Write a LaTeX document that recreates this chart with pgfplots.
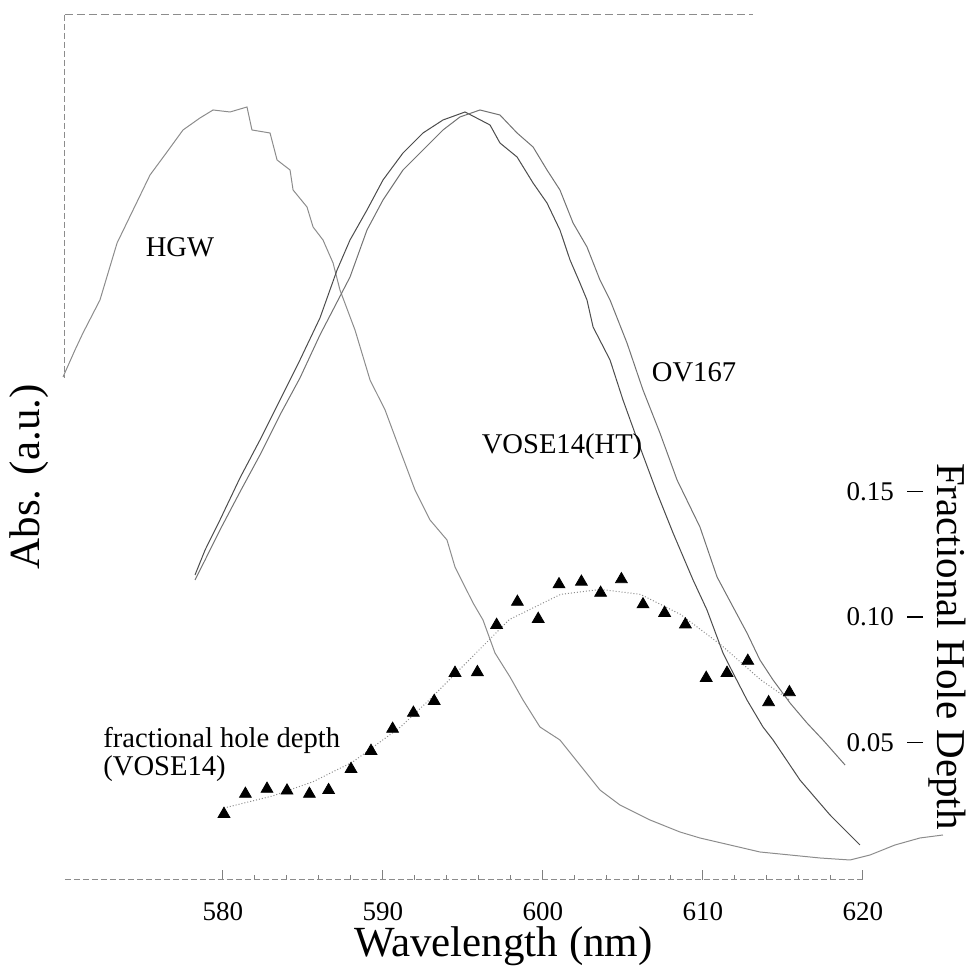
\documentclass[border=0pt]{standalone}
\usepackage{fontspec}
\setmainfont{Liberation Serif}
\usepackage{pgfplots}
\pgfplotsset{compat=1.18}
\begin{document}
\begin{tikzpicture}
\path[use as bounding box] (-32.5pt,-43.5pt) rectangle (453pt,440pt);
\begin{axis}[
  at={(0,0)}, anchor=south west, scale only axis,
  width=400pt, height=432.5pt,
  xmin=570.125, xmax=620.125, ymin=0, ymax=8.65,
  clip=false,
  separate axis lines,
  axis x line*=bottom, axis y line*=left,
  x axis line style={-, black!45, line width=0.5pt, dash pattern=on 3pt off 1.5pt},
  y axis line style={draw=none},
  xtick={580,590,600,610,620}, xtick pos=left, xtick align=inside,
  minor x tick num=4,
  major tick length=5pt, minor tick length=2.5pt,
  ytick=\empty,
  tick style={black!50, line width=0.5pt},
  /pgf/number format/assume math mode=true,
  /pgf/number format/1000 sep={},
  xticklabel style={font=\fontsize{13.5}{16}\selectfont, yshift=-7.5pt},
  xlabel={Wavelength (nm)},
  xlabel style={font=\fontsize{21.5}{24}\selectfont, at={(axis description cs:0.548,-0.089)}, anchor=base},
  ylabel={Abs. (a.u.)},
  ylabel style={font=\fontsize{21.5}{24}\selectfont, at={(axis description cs:-0.045,0.466)}, anchor=center},
]
\draw[black!45, line width=0.5pt, dash pattern=on 3pt off 1.5pt] (rel axis cs:0,1) -- (rel axis cs:0,0.58);
\draw[black!45, line width=0.5pt, dash pattern=on 4pt off 2pt] (rel axis cs:0,1) -- (rel axis cs:0.86,1);
% HGW
\addplot[black!45, line width=0.5pt] coordinates {
(570.0,5.03)(570.75,5.30)(571.25,5.47)(572.31,5.80)(573.38,6.37)(574.38,6.70)
(575.44,7.05)(576.5,7.28)(577.5,7.50)(578.56,7.62)(579.38,7.70)(580.44,7.68)
(581.5,7.73)(581.81,7.50)(582.94,7.47)(583.38,7.20)(584.19,7.10)(584.38,6.90)
(585.25,6.73)(585.63,6.53)(586.25,6.40)(586.88,6.17)(587.31,5.90)(588.25,5.50)
(589.19,5.00)(590.13,4.70)(591.06,4.30)(592.0,3.90)(592.94,3.60)(594.0,3.40)
(594.5,3.13)(595.63,2.77)(596.25,2.60)(597.0,2.27)(597.94,2.03)(598.75,1.80)
(599.81,1.53)(601.06,1.40)(602.31,1.15)(603.56,0.90)(604.81,0.75)(606.69,0.60)
(608.56,0.48)(609.81,0.42)(611.69,0.35)(613.56,0.28)(615.44,0.25)(617.31,0.22)
(619.19,0.20)(620.44,0.25)(622.0,0.35)(623.56,0.42)(625.0,0.45)
};
% VOSE14(HT)
\addplot[black!70, line width=0.5pt] coordinates {
(578.25,3.05)(578.88,3.30)(579.81,3.60)(581.06,4.02)(582.31,4.40)(583.56,4.80)
(584.81,5.20)(586.06,5.62)(587.13,6.10)(587.94,6.40)(589.0,6.70)(590.0,7.00)
(591.25,7.27)(592.5,7.47)(593.75,7.60)(595.13,7.68)(596.69,7.55)(597.31,7.37)
(598.38,7.23)(599.38,6.97)(600.25,6.77)(601.06,6.50)(601.69,6.20)(602.31,5.97)
(602.75,5.80)(603.13,5.53)(604.19,5.20)(605.0,4.80)(606.06,4.33)(607.13,3.87)
(608.13,3.47)(609.38,3.00)(610.25,2.70)(611.25,2.27)(611.88,2.07)(612.75,1.80)
(613.75,1.53)(614.38,1.40)(616.06,1.00)(617.94,0.65)(619.81,0.35)
};
% OV167
\addplot[black!55, line width=0.5pt] coordinates {
(578.25,3.00)(578.88,3.20)(579.81,3.50)(581.06,3.88)(582.31,4.25)(583.56,4.65)
(584.81,5.02)(586.06,5.45)(587.94,6.03)(589.0,6.50)(590.0,6.80)(591.25,7.10)
(592.5,7.30)(593.75,7.50)(594.81,7.63)(596.06,7.70)(597.31,7.65)(598.38,7.47)
(599.38,7.33)(600.25,7.10)(601.06,6.90)(601.88,6.57)(602.75,6.33)(603.56,6.00)
(604.19,5.80)(605.25,5.37)(606.25,4.90)(607.31,4.47)(608.38,4.00)(609.81,3.53)
(610.88,3.03)(611.88,2.73)(612.75,2.47)(613.56,2.20)(614.38,2.00)(615.44,1.77)
(616.5,1.57)(617.5,1.40)(618.88,1.15)
};
\node[font=\fontsize{14.3}{14}\selectfont] at (axis cs:577.31,6.33) {HGW};
\node[font=\fontsize{14.3}{14}\selectfont] at (axis cs:609.44,5.08) {OV167};
\node[font=\fontsize{14.3}{14}\selectfont] at (axis cs:601.19,4.33) {VOSE14(HT)};
\node[font=\fontsize{14.3}{14}\selectfont, align=left, anchor=west, inner sep=0pt] at (axis cs:572.5,1.26) {fractional hole depth\\(VOSE14)};
\end{axis}
\begin{axis}[
  at={(0,0)}, anchor=south west, scale only axis,
  width=425pt, height=432.5pt,
  xmin=570.125, xmax=623.25, ymin=-0.00478, ymax=0.33984,
  clip=false,
  axis x line=none, axis y line*=right,
  y axis line style={draw=none},
  ytick={0.05,0.10,0.15}, yticklabels={0.05,0.10,0.15},
  ytick align=center, major tick length=8pt,
  tick style={black, line width=0.6pt},
  yticklabel style={font=\fontsize{13.5}{16}\selectfont, anchor=east, xshift=-11pt},
  ylabel={Fractional Hole Depth},
  ylabel style={font=\fontsize{20.5}{23}\selectfont, rotate=180, at={(axis description cs:1.0375,0.27)}, anchor=center},
]
\addplot[black!45, densely dotted, line width=0.5pt] coordinates {
(580.06,0.0239)(583.1,0.0287)(585.6,0.0343)(588.1,0.0422)(591.1,0.0562)(592.9,0.067)
(595.4,0.083)(597.9,0.099)(601.1,0.109)(603.6,0.111)(606.1,0.109)(608.6,0.101)
(611.1,0.089)(613.6,0.075)(615.4,0.067)
};
\addplot[only marks, mark=triangle*, mark size=3.4pt, black] coordinates {
(580.06,0.0215)(581.4,0.0295)(582.75,0.0315)(584.0,0.0308)(585.4,0.0295)(586.6,0.031)
(588.0,0.0394)(589.25,0.0466)(590.6,0.0554)(591.9,0.0618)(593.2,0.0665)(594.5,0.0777)
(595.9,0.078)(597.1,0.0968)(598.4,0.106)(599.7,0.0992)(601.0,0.113)(602.4,0.114)
(603.6,0.1096)(604.9,0.115)(606.25,0.105)(607.6,0.1016)(608.9,0.097)(610.2,0.0757)
(611.5,0.0777)(612.8,0.0825)(614.1,0.066)(615.4,0.070)
};
\end{axis}
\end{tikzpicture}
\end{document}
